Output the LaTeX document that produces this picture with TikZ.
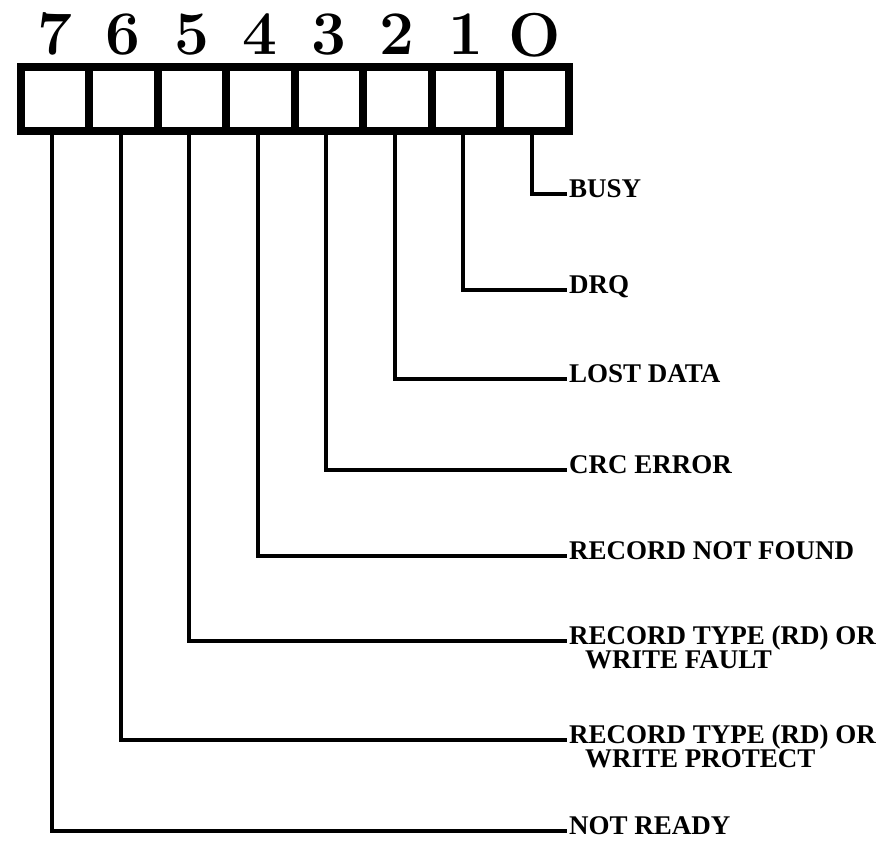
\documentclass[tikz,border=0pt]{standalone}
\usepackage{fontspec}
\newfontfamily\labfont{Liberation Serif}
\begin{document}
\begin{tikzpicture}[x=1pt,y=-1pt,
  cell/.style={draw, line width=8pt, minimum width=68.5pt, minimum height=64pt, inner sep=0pt},
  bitnum/.style={font=\fontsize{62}{62}\selectfont\bfseries, anchor=base, inner sep=0pt},
  lab/.style={font=\fontsize{27}{22}\selectfont\labfont\bfseries, anchor=base west, inner sep=0pt, align=left},
  wire/.style={line width=4pt}]
\useasboundingbox (0,0) rectangle (892,841);
% register cells (bit 7 .. bit 0, left to right)
\foreach \b/\x in {7/54.75,6/123.25,5/191.75,4/260.25,3/328.75,2/397.25,1/465.75,0/534.25}{
  \node[cell] (c\b) at (\x,98.5) {};
}
% bit numbers
\node[bitnum] (n7) at (54.75,54) {7};
\node[bitnum] (n6) at (123.25,54) {6};
\node[bitnum] (n5) at (191.75,54) {5};
\node[bitnum] (n4) at (260.25,54) {4};
\node[bitnum] (n3) at (328.75,54) {3};
\node[bitnum] (n2) at (397.25,54) {2};
\node[bitnum] (n1) at (465.75,54) {1};
\node[bitnum] (n0) at (534.25,56) {O};
% labels
\node[lab] (l0) at (569,197) {BUSY};
\node[lab] (l1) at (569,293) {DRQ};
\node[lab] (l2) at (569,382) {LOST DATA};
\node[lab] (l3) at (569,473) {CRC ERROR};
\node[lab] (l4) at (569,559) {RECORD NOT FOUND};
\node[lab] (l5) at (569,644) {\begin{tabular}[t]{@{}l@{}}RECORD TYPE (RD) OR\\\hspace*{16pt}WRITE FAULT\end{tabular}};
\node[lab] (l6) at (569,743) {\begin{tabular}[t]{@{}l@{}}RECORD TYPE (RD) OR\\\hspace*{16pt}WRITE PROTECT\end{tabular}};
\node[lab] (l7) at (569,834) {NOT READY};
% connectors
\foreach \b in {0,...,7}{
  \draw[wire] ([xshift=-2.5pt]c\b.south) |- ([xshift=-2pt,yshift=3pt]l\b.base west);
}
\end{tikzpicture}
\end{document}
